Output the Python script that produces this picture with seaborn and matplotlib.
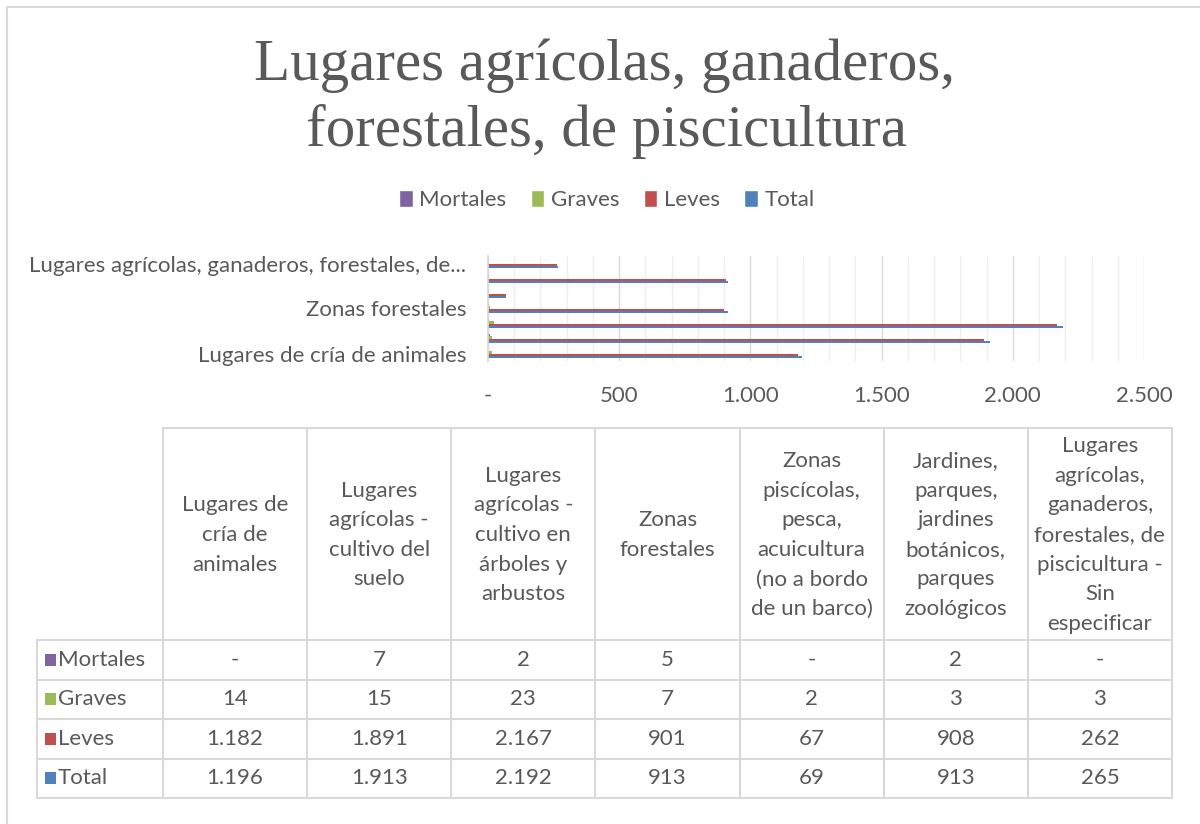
import numpy as np
import pandas as pd
import matplotlib
matplotlib.use("Agg")
import matplotlib.pyplot as plt
import seaborn as sns
from matplotlib.patches import Patch, Rectangle
from matplotlib.ticker import FixedLocator, MultipleLocator

# ---------------- data ----------------
categories = [
    "Lugares de cría de animales",
    "Lugares agrícolas - cultivo del suelo",
    "Lugares agrícolas - cultivo en árboles y arbustos",
    "Zonas forestales",
    "Zonas piscícolas, pesca, acuicultura (no a bordo de un barco)",
    "Jardines, parques, jardines botánicos, parques zoológicos",
    "Lugares agrícolas, ganaderos, forestales, de piscicultura - Sin especificar",
]
axis_labels = [
    "Lugares de cría de animales", "", "", "Zonas forestales", "", "",
    "Lugares agrícolas, ganaderos, forestales, de...",
]
header_labels = [
    "Lugares de\ncría de\nanimales",
    "Lugares\nagrícolas -\ncultivo del\nsuelo",
    "Lugares\nagrícolas -\ncultivo en\nárboles y\narbustos",
    "Zonas\nforestales",
    "Zonas\npiscícolas,\npesca,\nacuicultura\n(no a bordo\nde un barco)",
    "Jardines,\nparques,\njardines\nbotánicos,\nparques\nzoológicos",
    "Lugares\nagrícolas,\nganaderos,\nforestales, de\npiscicultura -\nSin\nespecificar",
]
series = ["Mortales", "Graves", "Leves", "Total"]
mortales = [0, 7, 2, 5, 0, 2, 0]
graves = [14, 15, 23, 7, 2, 3, 3]
leves = [1182, 1891, 2167, 901, 67, 908, 262]
total = [1196, 1913, 2192, 913, 69, 913, 265]
colors = ["#8064A2", "#9BBB59", "#C0504D", "#4F81BD"]
xticks = [0, 500, 1000, 1500, 2000, 2500]
title_lines = ["Lugares agrícolas, ganaderos,", "forestales, de piscicultura"]

values = {"Mortales": mortales, "Graves": graves, "Leves": leves, "Total": total}


def fmt(v):
    return "-" if v == 0 else f"{v:,}".replace(",", ".")


# ---------------- style ----------------
sns.set_theme(style="white")
SANS = ["Lato", "DejaVu Sans"]
plt.rcParams["font.family"] = SANS
GREY = "#595959"
LINE = "#d9d9d9"
FS = 16

W, H = 1200, 824
fig = plt.figure(figsize=(12, 8.24), dpi=100)
fig.patch.set_facecolor("white")

ov = fig.add_axes([0, 0, 1, 1], zorder=0)
ov.set_xlim(0, W)
ov.set_ylim(H, 0)
ov.axis("off")

# chart border
ov.plot([7, 7], [7, H], color=LINE, lw=1.5)
ov.plot([7, W], [7, 7], color=LINE, lw=1.5)

# title
ov.text(604, 80, title_lines[0], ha="center", va="baseline", fontsize=42.5,
        color=GREY, family=["Liberation Serif", "DejaVu Serif"])
ov.text(606, 146, title_lines[1], ha="center", va="baseline", fontsize=42.5,
        color=GREY, family=["Liberation Serif", "DejaVu Serif"])

# ---------------- bar chart ----------------
ax = fig.add_axes([488 / W, 1 - 361 / H, (1144 - 488) / W, (361 - 256) / H], zorder=2)
ax.patch.set_alpha(0)

rows = []
for s in series:
    for c, v in zip(categories, values[s]):
        rows.append({"cat": c, "serie": s, "value": v})
df = pd.DataFrame(rows)

sns.barplot(data=df, x="value", y="cat", hue="serie", order=categories[::-1],
            hue_order=series, palette=colors, orient="h", width=0.55,
            saturation=1, ax=ax, legend=False, linewidth=0, edgecolor="none")

ax.set_xlim(0, 2500)
ax.set_ylim(6.5, -0.5)
ax.xaxis.set_major_locator(FixedLocator(xticks))
ax.xaxis.set_minor_locator(MultipleLocator(100))
ax.set_xticklabels([fmt(v) for v in xticks])
ax.grid(which="major", axis="x", color="#d9d9d9", lw=1)
ax.grid(which="minor", axis="x", color="#eeeeee", lw=1)
ax.set_axisbelow(True)
ax.tick_params(axis="x", which="both", length=0, pad=18, labelsize=FS, labelcolor=GREY)

ax.set_yticks(range(7))
ax.set_yticklabels(axis_labels[::-1])
ax.yaxis.set_minor_locator(FixedLocator(np.arange(-0.5, 7, 1)))
ax.tick_params(axis="y", which="major", length=0, pad=15.5, labelsize=FS, labelcolor=GREY)
ax.tick_params(axis="y", which="minor", length=6, color=LINE, width=1)
for sp in ["top", "right", "bottom"]:
    ax.spines[sp].set_visible(False)
ax.spines["left"].set_color(LINE)
ax.set_xlabel("")
ax.set_ylabel("")

# legend
handles = [Patch(facecolor=c, label=s) for s, c in zip(series, colors)]
fig.legend(handles=handles, loc="center", bbox_to_anchor=(607 / W, 1 - 200 / H),
           ncol=4, frameon=False, fontsize=FS, handlelength=0.6, handleheight=0.8,
           handletextpad=0.3, columnspacing=1.1, labelcolor=GREY)

# ---------------- data table ----------------
col_left, col_right = 163, 1172
col_w = (col_right - col_left) / len(categories)
label_left = 37
head_top, head_bot, tab_bot = 428, 640, 798
row_h = (tab_bot - head_bot) / len(series)

ov.plot([col_left, col_right], [head_top, head_top], color=LINE, lw=1.5)
for r in range(len(series) + 1):
    y = head_bot + r * row_h
    ov.plot([label_left, col_right], [y, y], color=LINE, lw=1.5)
ov.plot([label_left, label_left], [head_bot, tab_bot], color=LINE, lw=1.5)
for i in range(len(categories) + 1):
    x = col_left + i * col_w
    ov.plot([x, x], [head_top, tab_bot], color=LINE, lw=1.5)

for i, lab in enumerate(header_labels):
    cx = col_left + (i + 0.5) * col_w
    ov.text(cx, (head_top + head_bot) / 2 + 1, lab, ha="center", va="center",
            multialignment="center", fontsize=FS, color=GREY, linespacing=1.6)

for r, s in enumerate(series):
    cy = head_bot + (r + 0.5) * row_h
    ov.add_patch(Rectangle((45, cy - 6), 11, 12, facecolor=colors[r], edgecolor="none"))
    ov.text(58, cy, s, ha="left", va="center", fontsize=FS, color=GREY)
    for i, v in enumerate(values[s]):
        cx = col_left + (i + 0.5) * col_w
        ov.text(cx, cy, fmt(v), ha="center", va="center", fontsize=FS, color=GREY)

fig.savefig("out.png", dpi=100, facecolor="white")
